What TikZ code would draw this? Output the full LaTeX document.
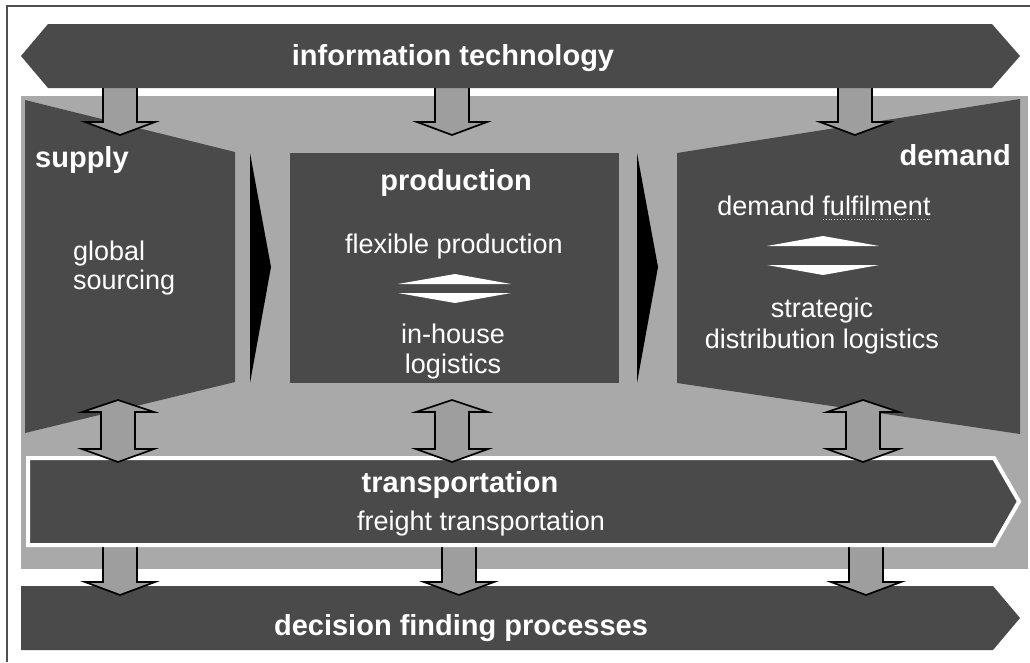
\documentclass[tikz,border=0pt]{standalone}
\usepackage{fontspec}
\setmainfont{Liberation Sans}
\definecolor{panel}{HTML}{4A4A4A}
\definecolor{backdrop}{HTML}{A9A9A9}
\definecolor{arrowfill}{HTML}{9E9E9E}
\definecolor{framecol}{HTML}{505050}
\begin{document}
\begin{tikzpicture}[x=1pt,y=-1pt,
  panelshape/.style={fill=panel,draw=none},
  blockarrow/.style={fill=arrowfill,draw=black,line width=1.7pt,line join=miter,miter limit=20},
  flowwedge/.style={fill=black,draw=none},
  swapwedge/.style={fill=white,draw=none},
  title/.style={font=\bfseries\fontsize{29}{34}\selectfont,text=white,inner sep=0pt},
  body/.style={font=\fontsize{27}{31}\selectfont,text=white,inner sep=0pt},
  downarrow/.pic={\draw[blockarrow] (-17,-49) -- (-17,-13) -- (-35,-13) -- (0,0)
                      -- (35,-13) -- (17,-13) -- (17,-49) -- cycle;},
  twowayarrow/.pic={\draw[blockarrow] (0,0) -- (36,12) -- (17,12) -- (17,49) -- (36,49)
                      -- (0,62) -- (-36,49) -- (-17,49) -- (-17,12) -- (-36,12) -- cycle;}
]
\useasboundingbox (0,0) rectangle (1030,662);

% page frame
\draw[framecol,line width=1.3pt] (7,662) -- (7,6) -- (1030,6);

% grey backdrop of the logistics chain
\fill[backdrop] (21,96) rectangle (1028,569);

% supply, production and demand blocks
\fill[panelshape] (25,100) -- (235,152) -- (235,382) -- (25,433) -- cycle;
\fill[panelshape] (290,153) rectangle (619,383);
\fill[panelshape] (677,153) -- (1020,99) -- (1020,434) -- (677,383) -- cycle;

% flow wedges between the blocks
\fill[flowwedge] (250,153) -- (271,267) -- (250,383) -- cycle;
\fill[flowwedge] (637,153) -- (658,267) -- (637,383) -- cycle;

% exchange symbols inside production and demand
\fill[swapwedge] (398,284) -- (455,274) -- (511,284) -- cycle;
\fill[swapwedge] (398,293) -- (511,293) -- (455,303) -- cycle;
\fill[swapwedge] (767,246) -- (823,236) -- (879,246) -- cycle;
\fill[swapwedge] (767,265) -- (879,265) -- (823,275) -- cycle;

% decision banner and the arrows feeding it
\fill[panelshape] (21,586) -- (993,586) -- (1020,618) -- (993,650) -- (21,650) -- cycle;
\pic at (120,595) {downarrow};
\pic at (459,595) {downarrow};
\pic at (866,595) {downarrow};

% transportation band
\draw[fill=panel,draw=white,line width=4pt,line join=miter]
  (28,458) -- (994,458) -- (1019,501.5) -- (994,545) -- (28,545) -- cycle;

% two-way links between the blocks and transportation
\pic at (118,400) {twowayarrow};
\pic at (452,400) {twowayarrow};
\pic at (863,400) {twowayarrow};

% arrows from information technology
\pic at (120,135) {downarrow};
\pic at (452,135) {downarrow};
\pic at (855,135) {downarrow};

% information technology banner
\fill[panelshape] (21,56) -- (48,24) -- (992,24) -- (1020,56) -- (992,88) -- (48,88) -- cycle;

% texts
\node[title,anchor=base] (it) at (453,65) {information technology};
\node[title,anchor=base west] (supply) at (35,167) {supply};
\node[body,anchor=base west] (global) at (73,260) {global};
\node[body,anchor=base west] (sourcing) at (73,289) {sourcing};
\node[title,anchor=base] (production) at (456,190) {production};
\node[body,anchor=base] (flexible) at (454,253) {flexible production};
\node[body,anchor=base] (inhouse) at (453,343) {in-house};
\node[body,anchor=base] (inlog) at (453,373) {logistics};
\node[title,anchor=base east] (demand) at (1011,165) {demand};
\node[body,anchor=base] (fulfil) at (824,215) {demand fulfilment};
\draw[white!80!black,line width=0.8pt,dotted] (823,219.5) -- (932,219.5);
\node[body,anchor=base] (strategic) at (822,317) {strategic};
\node[body,anchor=base] (distlog) at (822,348) {distribution logistics};
\node[title,anchor=base] (transport) at (460,492) {transportation};
\node[body,anchor=base] (freight) at (481,530) {freight transportation};
\node[title,anchor=base] (decision) at (461,635) {decision finding processes};
\end{tikzpicture}
\end{document}
